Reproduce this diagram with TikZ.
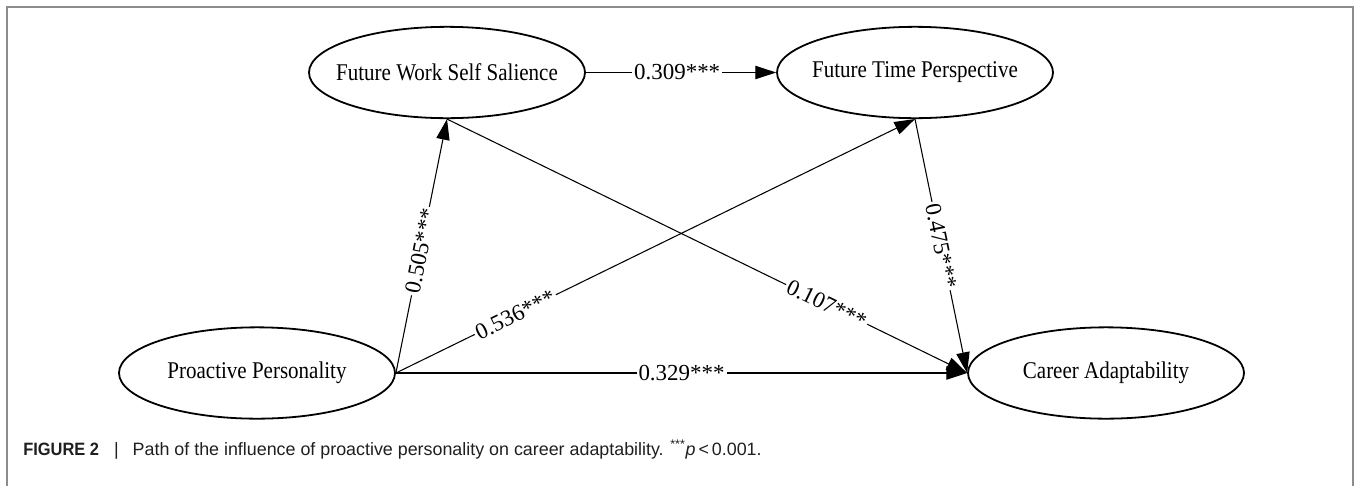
\documentclass[tikz,border=0pt]{standalone}
\usepackage{fontspec}
\setmainfont{Liberation Serif}
\newfontfamily\nodefont[FakeStretch=0.875]{Liberation Serif}
\newfontfamily\capfont{Liberation Sans}
\usetikzlibrary{shapes.geometric,arrows.meta}
\begin{document}
\begin{tikzpicture}[x=0.75pt,y=-0.75pt,
  latent/.style={ellipse, draw, line width=1.35pt, minimum width=207pt, minimum height=68.5pt, inner sep=0pt, font=\nodefont\fontsize{18}{20}\selectfont},
  conn/.style={draw, line width=0.8pt, -{Triangle[length=15.5pt,width=10pt]}},
  lbl/.style={fill=white, inner sep=1.5pt, font=\fontsize{17.2}{19}\selectfont},
  framebox/.style={draw=black!45, line width=0.8pt},
  captext/.style={anchor=base west, inner sep=0pt, text=black!88, font=\capfont\fontsize{13.4}{15}\selectfont}]
\useasboundingbox (0,0) rectangle (1356,486);
\draw[framebox] (7,486) -- (7,7) -- (1353,7) -- (1353,486);

\node[latent] (fwss) at (447,72.5) {\makebox[0pt]{Future Work Self Salience}};
\node[latent] (ftp) at (915,72.5) {\makebox[0pt]{Future Time Perspective}};
\node[latent] (pp) at (257,373) {\makebox[0pt]{Proactive Personality}};
\node[latent] (ca) at (1106,373) {\makebox[0pt]{Career Adaptability}};

\draw[conn] (fwss.east) -- node[lbl, pos=0.48] {0.309***} (ftp.west);
\draw[conn] (pp.east) -- node[lbl, sloped, pos=0.48] {0.505***} (fwss.south);
\draw[conn] (pp.east) -- node[lbl, sloped, pos=0.23] {0.536***} (ftp.south);
\draw[conn] (fwss.south) -- node[lbl, sloped, pos=0.73] {0.107***} (ca.west);
\draw[conn] (ftp.south) -- node[lbl, sloped, pos=0.5] {0.475***} (ca.west);
\draw[conn] (pp.east) -- node[lbl, pos=0.5] {0.329***} (ca.west);

\node[captext] (cap) at (23,455) {\scalebox{0.92}[1]{\textbf{FIGURE 2}}\hspace{11.25pt}|\hspace{10.5pt}Path of the influence of proactive personality on career adaptability. \textsuperscript{***}\textit{p}\,<\,0.001.};
\end{tikzpicture}
\end{document}
